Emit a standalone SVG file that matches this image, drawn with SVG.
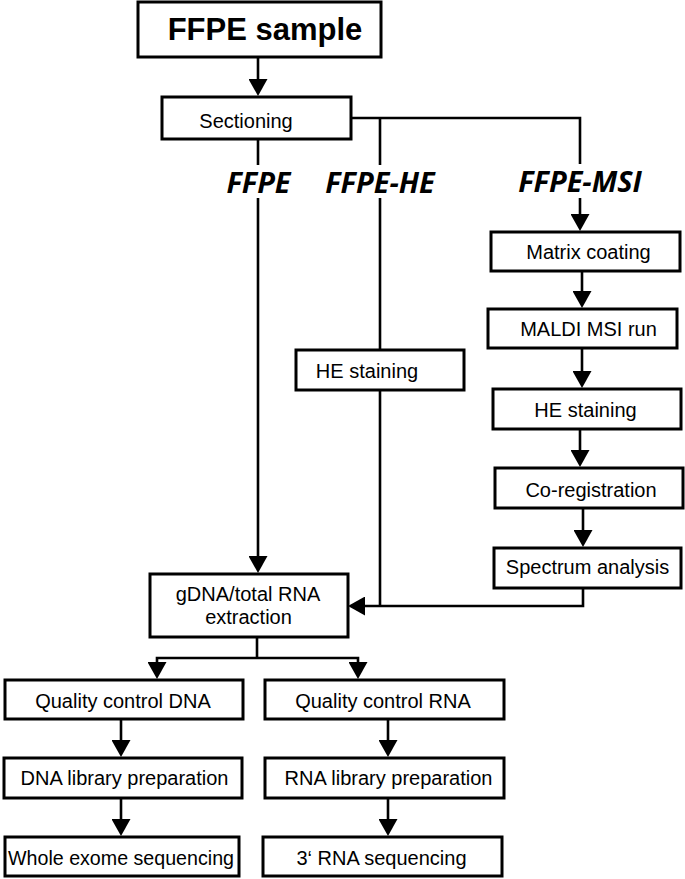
<svg xmlns="http://www.w3.org/2000/svg" width="685" height="879" viewBox="0 0 685 879">
<style>
.box{fill:#fff;stroke:#000;stroke-width:3}
.t{font-family:"Liberation Sans",Arial,sans-serif;font-size:20px;fill:#000;text-anchor:middle}
.big{font-family:"Liberation Sans",Arial,sans-serif;font-size:31px;font-weight:bold;fill:#000;text-anchor:middle}
.lab{font-family:"Open Sans","Liberation Sans",sans-serif;font-size:29px;font-weight:bold;font-style:italic;fill:#000;text-anchor:middle}
.ln{fill:none;stroke:#000;stroke-width:2.6}
.ar{fill:none;stroke:#000;stroke-width:2.6;marker-end:url(#ah)}
</style>
<defs>
<marker id="ah" viewBox="0 0 17 19" refX="7" refY="9.5" markerWidth="17" markerHeight="19" markerUnits="userSpaceOnUse" orient="auto">
<path d="M0,0 L17,9.5 L0,19 z" fill="#000"/>
</marker>
</defs>
<rect width="685" height="879" fill="#fff"/>
<g id="connectors">
<path class="ar" d="M258,57 V86"/>
<path class="ln" d="M351,118 H580 V164"/>
<path class="ln" d="M380,118 V165"/>
<path class="ln" d="M258,139 V165"/>
<path class="ar" d="M258,198 V563"/>
<path class="ln" d="M380,198 V350"/>
<path class="ln" d="M380,390 V606"/>
<path class="ar" d="M580,198 V221"/>
<path class="ar" d="M582,271 V298"/>
<path class="ar" d="M582,348 V378"/>
<path class="ar" d="M580,429 V457"/>
<path class="ar" d="M583,508 V537"/>
<path class="ar" d="M583,588 V606 H358"/>
<path class="ln" d="M257,637 V658"/>
<path class="ar" d="M257,658 H157 V669"/>
<path class="ar" d="M257,658 H358 V669"/>
<path class="ar" d="M121,719 V747"/>
<path class="ar" d="M388,719 V747"/>
<path class="ar" d="M121,798 V826"/>
<path class="ar" d="M388,798 V826"/>
<text class="lab" x="258.5" y="193">FFPE</text>
<text class="lab" x="380" y="193">FFPE-HE</text>
<text class="lab" x="580" y="192">FFPE-MSI</text>
</g>
<g id="sample"><rect class="box" x="138" y="2" width="243" height="55"/><text class="big" x="265" y="40">FFPE sample</text></g>
<g id="sectioning"><rect class="box" x="162" y="97" width="189" height="42"/><text class="t" x="246" y="128">Sectioning</text></g>
<g id="he_staining_1"><rect class="box" x="296" y="350" width="168" height="40"/><text class="t" x="367" y="378">HE staining</text></g>
<g id="matrix_coating"><rect class="box" x="491" y="232" width="189" height="39"/><text class="t" x="588.5" y="259">Matrix coating</text></g>
<g id="maldi"><rect class="box" x="488" y="309" width="189" height="39"/><text class="t" x="588.5" y="336">MALDI MSI run</text></g>
<g id="he_staining_2"><rect class="box" x="493" y="389" width="188" height="40"/><text class="t" x="585.5" y="417">HE staining</text></g>
<g id="coregistration"><rect class="box" x="495" y="468" width="188" height="40"/><text class="t" x="591" y="497">Co-registration</text></g>
<g id="spectrum"><rect class="box" x="494" y="548" width="187" height="40"/><text class="t" x="587.5" y="574">Spectrum analysis</text></g>
<g id="extraction"><rect class="box" x="150" y="574" width="198" height="63"/><text class="t" x="248" y="601">gDNA/total RNA</text><text class="t" x="248.5" y="624">extraction</text></g>
<g id="qc_dna"><rect class="box" x="5" y="680" width="238" height="39"/><text class="t" x="123" y="708">Quality control DNA</text></g>
<g id="qc_rna"><rect class="box" x="265" y="680" width="239" height="39"/><text class="t" x="383" y="708">Quality control RNA</text></g>
<g id="lib_dna"><rect class="box" x="4" y="758" width="238" height="40"/><text class="t" x="124.5" y="785">DNA library preparation</text></g>
<g id="lib_rna"><rect class="box" x="265" y="758" width="239" height="40"/><text class="t" x="388.5" y="785">RNA library preparation</text></g>
<g id="wes"><rect class="box" x="5" y="837" width="234" height="39"/><text class="t" x="121" y="865" textLength="226" lengthAdjust="spacingAndGlyphs">Whole exome sequencing</text></g>
<g id="rna_seq"><rect class="box" x="263" y="837" width="239" height="39"/><text class="t" x="381.5" y="865">3‘ RNA sequencing</text></g>
</svg>
